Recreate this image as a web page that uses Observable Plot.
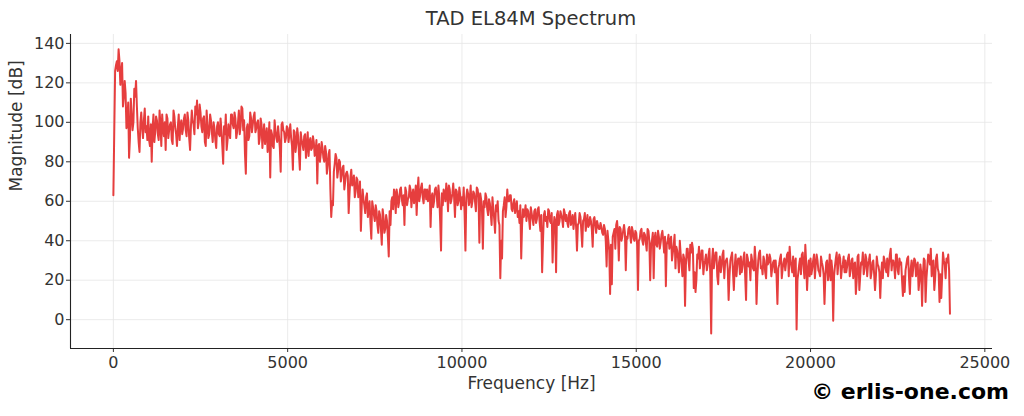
<!DOCTYPE html>
<html>
<head>
<meta charset="utf-8">
<script src="https://cdn.jsdelivr.net/npm/d3@7"></script>
<script src="https://cdn.jsdelivr.net/npm/@observablehq/plot@0.6"></script>
<style>
  html, body { margin: 0; padding: 0; background: #fff; }
  #wrap { position: relative; width: 1024px; height: 416px; overflow: hidden; font-family: "DejaVu Sans", sans-serif; }
  #title { height: 30px; width: 922px; margin-left: 70px; text-align: center; font-size: 19.5px; line-height: 30px; color: #333; }
  #title span { position: relative; top: 4px; }
  #mark { position: absolute; right: 15px; top: 380px; font-size: 22px; line-height: 24px; font-weight: bold; color: #000; }
</style>
</head>
<body>
<div id="wrap">
  <div id="title"><span>TAD EL84M Spectrum</span></div>
  <div id="chart"></div>
  <div id="mark">© erlis-one.com</div>
</div>
<script>
// Magnitude [dB] per 1 kHz band: readings every 50 Hz (bandNN) and the
// readings in between, 25 Hz later (bandNNb)
const step = 50;
const band00 = [63,126,131,137,119,130,113,115,101,82,112,96,117,121,97,85,105,92,107,98];
const band01 = [103,88,80,104,95,101,91,99,104,93,86,102,96,100,89,103,94,98,91,101];
const band02 = [97,104,93,101,86,106,99,108,111,100,105,95,103,88,99,94,101,90,97,87];
const band03 = [100,93,96,79,94,86,99,92,104,97,102,95,106,98,107,101,74,99,93,102];
const band04 = [99,105,97,101,92,99,94,89,97,91,72,94,87,96,90,93,75,100,95,92];
const band05 = [97,94,92,76,95,89,93,76,91,86,94,88,83,92,87,90,85,69,89,84];
const band06 = [87,80,85,78,86,52,58,79,82,76,80,73,78,70,75,54,72,68,73,65];
const band07 = [71,64,45,66,58,62,52,60,41,57,50,55,44,53,38,52,46,50,32,48];
const band08 = [62,66,54,63,60,67,58,48,65,61,68,57,66,62,53,72,63,69,59,66];
const band09 = [66,63,47,64,60,67,57,62,35,58,64,69,55,66,61,69,52,65,60,63];
const band10 = [62,67,35,66,58,68,60,64,55,66,39,61,36,57,62,53,59,48,56,44];
const band11 = [55,50,21,31,58,52,66,60,63,55,61,57,52,49,31,56,54,50,55,46];
const band12 = [54,48,56,51,57,45,24,53,50,47,55,49,29,52,24,55,50,53,47,54];
const band13 = [53,47,55,50,46,54,35,49,52,37,51,45,53,48,50,37,52,44,48,46];
const band14 = [47,43,46,27,40,13,18,44,36,50,30,46,42,48,25,41,47,39,45,40];
const band15 = [44,15,41,46,38,43,35,45,20,40,21,44,37,42,39,45,34,17,40,36];
const band16 = [42,34,43,37,31,40,28,33,7,36,30,38,39,16,14,33,37,30,35,28];
const band17 = [33,28,36,-7,36,30,34,18,32,27,35,29,31,10,30,34,15,33,28,31];
const band18 = [32,27,34,10,31,29,33,26,37,8,30,35,27,32,24,33,29,31,26,30];
const band19 = [30,8,28,33,26,31,29,34,37,27,32,29,-5,24,31,33,27,38,15,30];
const band20 = [31,26,33,28,30,24,32,27,8,29,20,33,30,-0.5,27,34,29,31,26,32];
const band21 = [30,27,33,25,31,28,13,32,15,29,34,26,31,28,33,24,30,15,32,27];
const band22 = [11,29,32,26,31,28,36,30,27,33,25,31,29,12,14,28,32,13,30,27];
const band23 = [30,27,15,28,7,31,9,27,32,36,29,15,31,26,9,11,34,28,31,33];
const band24 = [3];

const band00b = [95,129,126,131,126,108,121,97,110,92,104,100,113,108,90,100,97,101,95,91];
const band01b = [91,99,97,90,103,94,106,88,97,100,104,92,99,91,106,97,88,104,99,94];
const band02b = [102,96,105,92,98,101,94,104,97,109,98,102,90,106,92,104,95,100,91,98];
const band03b = [94,102,88,98,104,91,95,104,99,105,92,100,94,108,96,84,97,91,105,95];
const band04b = [103,95,100,89,102,87,99,93,85,100,96,88,101,92,98,87,99,96,90,98];
const band05b = [90,99,88,96,85,97,84,95,89,93,82,95,90,86,93,83,91,88,80,90];
const band06b = [82,88,74,84,66,60,75,84,72,81,70,77,66,74,73,64,76,70,62,72];
const band07b = [62,70,58,61,54,64,56,49,60,53,58,48,55,46,56,44,53,42,55,60];
const band08b = [56,64,66,57,66,61,63,67,58,62,66,63,59,68,65,60,67,62,66,61];
const band09b = [60,68,62,57,66,63,68,50,64,66,60,65,68,59,64,62,66,58,67,56];
const band10b = [58,54,62,64,61,57,65,60,67,62,64,55,60,64,56,61,54,62,51,58];
const band11b = [60,48,40,55,62,57,60,63,56,59,54,60,55,58,48,52,58,56,51,57];
const band12b = [51,55,49,56,50,53,40,55,52,56,50,54,45,50,53,48,55,51,56,50];
const band13b = [49,54,48,53,51,47,48,54,45,50,54,49,47,52,46,51,48,50,46,49];
const band14b = [44,48,40,45,35,38,42,46,48,44,47,40,45,44,42,46,43,47,41,45];
const band15b = [38,40,45,40,44,39,46,40,38,44,41,38,45,36,43,40,42,38,43,40];
const band16b = [30,38,26,35,24,33,22,31,28,36,25,34,36,24,20,31,26,35,23,30];
const band17b = [25,33,22,30,26,34,22,29,24,33,21,30,26,22,32,24,27,22,31,23];
const band18b = [24,31,22,33,27,20,30,25,30,22,34,26,23,30,21,28,33,22,29,24];
const band19b = [22,26,31,21,29,25,33,22,30,24,22,31,20,28,23,34,21,29,25,22];
const band20b = [23,30,21,33,25,22,29,23,22,30,24,20,25,22,31,23,33,21,28,24];
const band21b = [24,31,22,30,21,29,20,33,22,28,23,33,22,30,21,29,23,22,28,24];
const band22b = [23,21,30,24,22,33,25,30,21,33,23,28,20,22,25,31,21,26,22,31];
const band23b = [22,29,20,24,23,30,21,33,28,22,30,21,33,24,23,22,30,21,29,25];

const xTicks = [0, 5000, 10000, 15000, 20000, 25000];
const yTicks = [0, 20, 40, 60, 80, 100, 120, 140];
const xDomain = [-1230, 25220];
const yDomain = [-14.6, 144.5];

const bandsA = [band00,band01,band02,band03,band04,band05,band06,band07,band08,band09,band10,band11,
                band12,band13,band14,band15,band16,band17,band18,band19,band20,band21,band22,band23,band24];
const bandsB = [band00b,band01b,band02b,band03b,band04b,band05b,band06b,band07b,band08b,band09b,band10b,band11b,
                band12b,band13b,band14b,band15b,band16b,band17b,band18b,band19b,band20b,band21b,band22b,band23b];
const data = [];
bandsA.forEach((b, k) => b.forEach((v, i) => data.push({f: k * 1000 + i * step, db: v})));
bandsB.forEach((b, k) => b.forEach((v, i) => data.push({f: k * 1000 + i * step + step / 2, db: v})));
data.sort((a, b) => a.f - b.f);

const txt = "#333";
const plot = Plot.plot({
  width: 1024,
  height: 386,
  marginLeft: 70,
  marginRight: 32,
  marginTop: 4,
  marginBottom: 68,
  style: {fontFamily: "DejaVu Sans, sans-serif", fontSize: "16px", color: txt, background: "#fff"},
  x: {domain: xDomain, ticks: xTicks, tickFormat: d3.format("d")},
  y: {domain: yDomain, ticks: yTicks, tickFormat: d3.format("d")},
  marks: [
    Plot.gridX(xTicks, {stroke: "#e6e6e6", strokeOpacity: 1, strokeWidth: 0.8}),
    Plot.gridY(yTicks, {stroke: "#e6e6e6", strokeOpacity: 1, strokeWidth: 0.8}),
    Plot.axisX(xTicks, {tickSize: 4, tickPadding: 4, fontSize: 16, fill: txt, stroke: txt, label: null, tickFormat: d3.format("d")}),
    Plot.axisY(yTicks, {tickSize: 4, tickPadding: 2, fontSize: 16, fill: txt, stroke: txt, label: null, tickFormat: d3.format("d")}),
    Plot.ruleX([xDomain[0]], {stroke: "#222", strokeWidth: 1.1}),
    Plot.ruleY([yDomain[0]], {stroke: "#222", strokeWidth: 1.1}),
    Plot.line(data, {x: "f", y: "db", stroke: "#e63e3e", strokeWidth: 2, strokeLinejoin: "round"}),
    Plot.text(["Frequency [Hz]"], {frameAnchor: "bottom", dy: 35, fontSize: 17, fill: txt, lineAnchor: "middle"}),
    Plot.text(["Magnitude [dB]"], {frameAnchor: "left", dx: -54, rotate: -90, fontSize: 17, fill: txt, lineAnchor: "middle"})
  ]
});
document.getElementById("chart").appendChild(plot);
</script>
</body>
</html>
